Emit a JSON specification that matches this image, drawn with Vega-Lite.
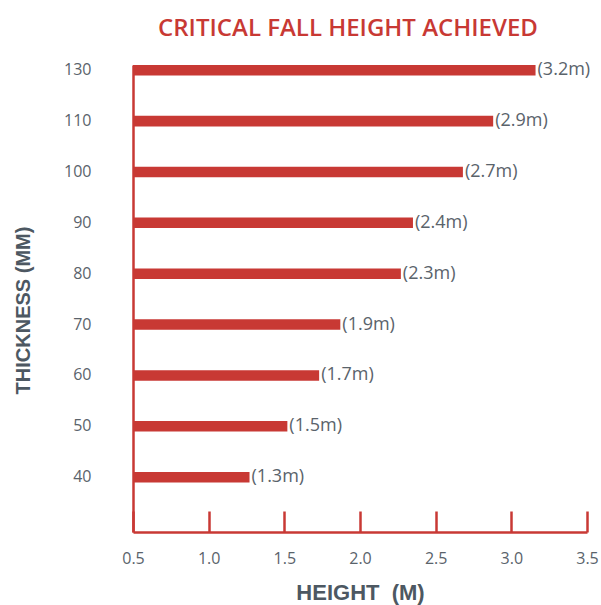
{
  "$schema": "https://vega.github.io/schema/vega-lite/v6.json",
  "autosize": "none",
  "width": 454,
  "height": 467,
  "padding": {"left": 133, "top": 65, "right": 14, "bottom": 73},
  "background": "white",
  "title": {
    "text": "CRITICAL FALL HEIGHT ACHIEVED",
    "font": "Open Sans",
    "fontSize": 24,
    "fontWeight": 600,
    "color": "#c83934",
    "anchor": "middle",
    "baseline": "alphabetic",
    "offset": 1,
    "dx": -12
  },
  "data": {
    "values": [
      {"thickness": 130, "height": 3.16, "label": "(3.2m)"},
      {"thickness": 110, "height": 2.88, "label": "(2.9m)"},
      {"thickness": 100, "height": 2.68, "label": "(2.7m)"},
      {"thickness": 90, "height": 2.35, "label": "(2.4m)"},
      {"thickness": 80, "height": 2.27, "label": "(2.3m)"},
      {"thickness": 70, "height": 1.87, "label": "(1.9m)"},
      {"thickness": 60, "height": 1.73, "label": "(1.7m)"},
      {"thickness": 50, "height": 1.52, "label": "(1.5m)"},
      {"thickness": 40, "height": 1.27, "label": "(1.3m)"}
    ]
  },
  "config": {
    "view": {"stroke": null},
    "axis": {"grid": false}
  },
  "encoding": {
    "y": {
      "field": "thickness",
      "type": "ordinal",
      "sort": "descending",
      "scale": {"paddingInner": 0.7936, "paddingOuter": 0.4865, "align": 0},
      "axis": {
        "title": "THICKNESS (MM)",
        "titleFont": "Liberation Sans",
        "titleFontSize": 20,
        "titleFontWeight": "bold",
        "titleColor": "#4d5862",
        "titlePadding": 30,
        "titleY": 245,
        "labelFont": "Open Sans",
        "labelFontSize": 16,
        "labelColor": "#5a636b",
        "labelPadding": 42,
        "ticks": false,
        "domainColor": "#c83934",
        "domainWidth": 2.5
      }
    }
  },
  "layer": [
    {
      "mark": {"type": "bar", "color": "#c83934"},
      "encoding": {
        "x": {
          "field": "height",
          "type": "quantitative",
          "scale": {"domain": [0.5, 3.5], "zero": false, "nice": false},
          "axis": {
            "title": "HEIGHT\u00a0 (M)",
            "titleFont": "Liberation Sans",
            "titleFontSize": 22,
            "titleFontWeight": "bold",
            "titleColor": "#4d5862",
            "titlePadding": 16,
            "values": [0.5, 1, 1.5, 2, 2.5, 3, 3.5],
            "format": ".1f",
            "labelFont": "Open Sans",
            "labelFontSize": 16,
            "labelColor": "#5a636b",
            "labelPadding": 39,
            "labelFlush": false,
            "tickSize": -21,
            "tickColor": "#c83934",
            "tickWidth": 2.5,
            "domainColor": "#c83934",
            "domainWidth": 2.5
          }
        },
        "x2": {"datum": 0.5}
      }
    },
    {
      "mark": {"type": "text", "align": "left", "baseline": "middle", "dx": 2, "font": "Open Sans", "fontSize": 18, "color": "#5a636b"},
      "encoding": {
        "x": {"field": "height", "type": "quantitative"},
        "text": {"field": "label"}
      }
    }
  ]
}
